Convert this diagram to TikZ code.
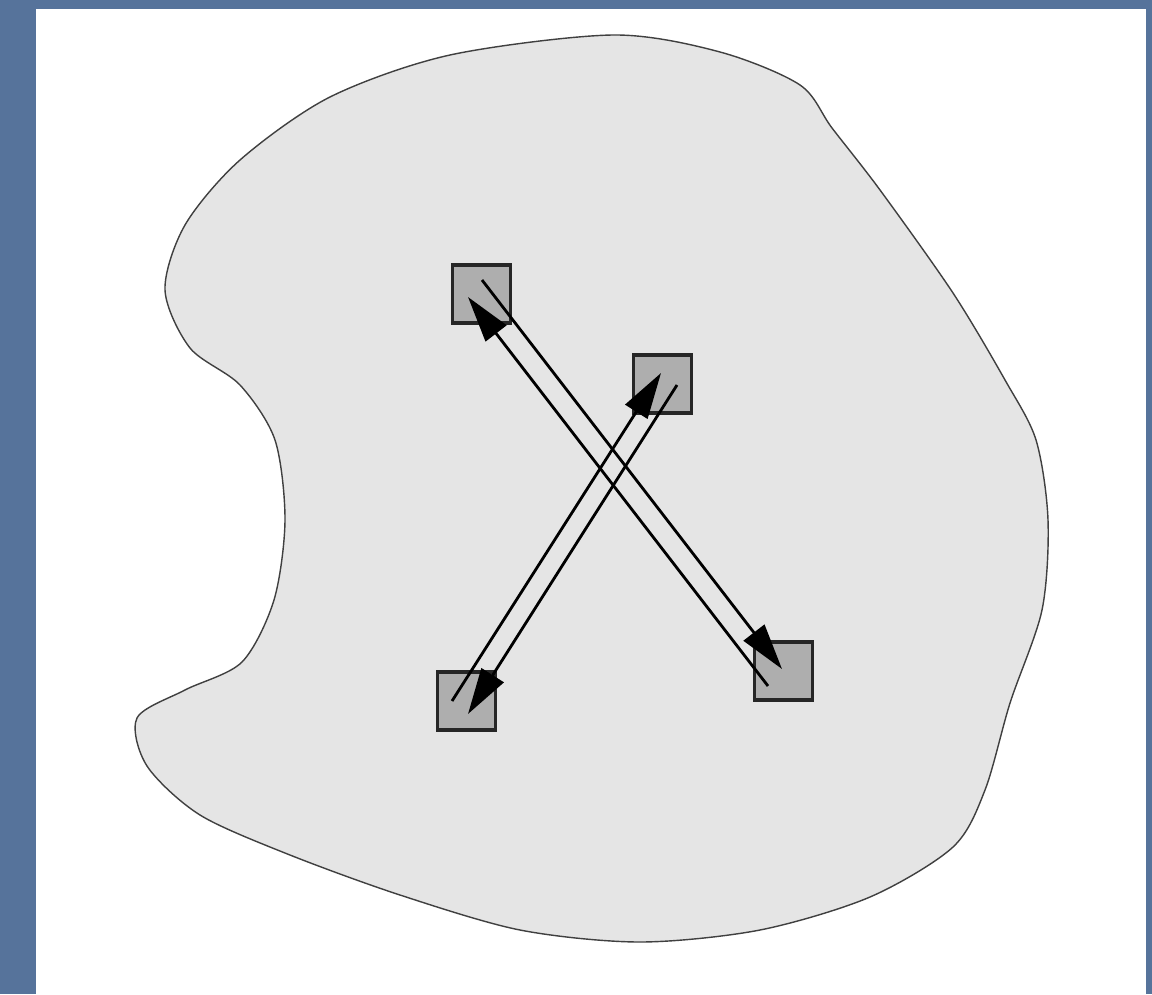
\documentclass[tikz,border=0pt]{standalone}
\usetikzlibrary{arrows.meta}
\begin{document}
\begin{tikzpicture}[x=0.01cm, y=-0.01cm,
  station/.style={draw=black!85, fill=stationgray, line width=1pt, minimum size=0.58cm, inner sep=0pt},
  flow/.style={line width=0.8pt, -{Triangle[length=0.46cm, width=0.26cm]}}]
  % Region with four stations and two-way traffic
  \definecolor{border}{HTML}{56739B}
  \definecolor{regiongray}{HTML}{E5E5E5}
  \definecolor{stationgray}{HTML}{AEAEAE}
  \fill[border] (0,0) rectangle (1152,994);
  \fill[white] (36,9) rectangle (1146,994);

  \filldraw[draw=black!75, fill=regiongray, line width=0.4pt] plot[smooth cycle] coordinates {
    (613,35) (720,52) (800,85) (832,128) (880,190) (953,293) (1005,380) (1036,440) (1048,520)
    (1042,610) (1010,703) (985,790) (953,847) (870,897) (760,930) (640,942) (520,930) (400,895)
    (290,855) (200,815) (147,766) (137,718) (185,690) (242,662) (274,600) (285,520) (275,440)
    (240,385) (190,348) (165,290) (185,225) (240,160) (330,97) (450,55)};

  \node[station] (a) at (481.5,294) {};
  \node[station] (b) at (662.5,384) {};
  \node[station] (c) at (466.5,701) {};
  \node[station] (d) at (783.5,671) {};

  \draw[flow] ([shift={(0.5,-14)}]a.center) -- ([shift={(-1.5,-2)}]d.center);
  \draw[flow] ([shift={(-15.5,15)}]d.center) -- ([shift={(-13.5,3)}]a.center);
  \draw[flow] ([shift={(14.5,1)}]b.center) -- ([shift={(1.5,13)}]c.center);
  \draw[flow] ([shift={(-14.5,0)}]c.center) -- ([shift={(-1.5,-11)}]b.center);
\end{tikzpicture}
\end{document}
